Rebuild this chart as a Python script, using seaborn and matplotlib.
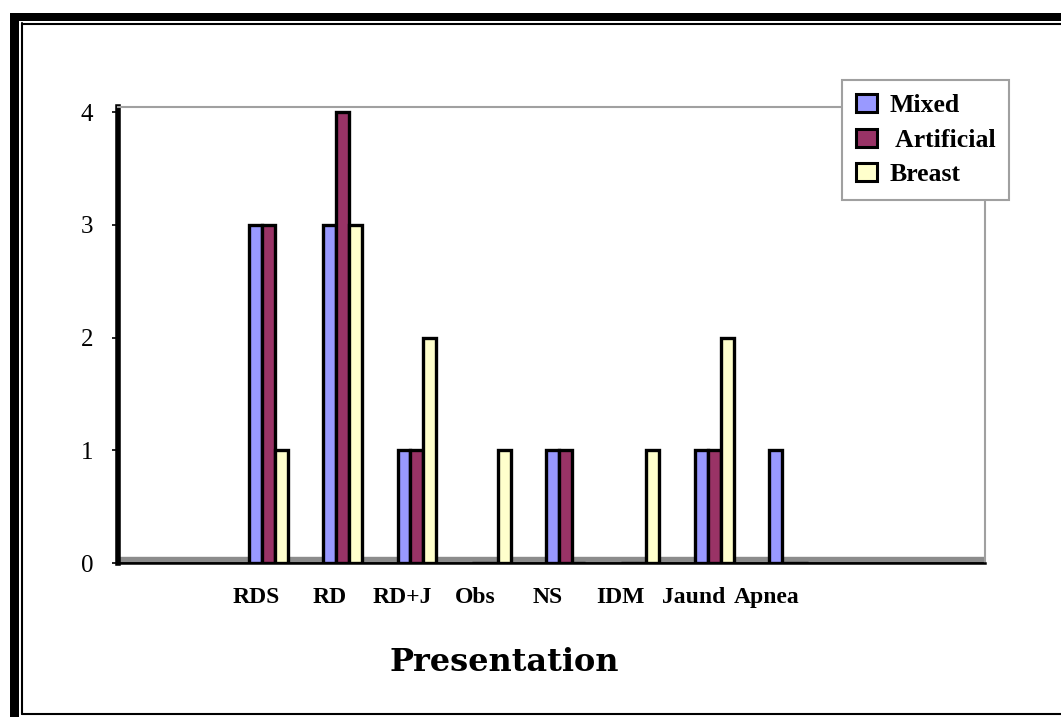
import matplotlib
matplotlib.use("Agg")
import matplotlib.pyplot as plt
from matplotlib.patches import Rectangle, Patch
from matplotlib.lines import Line2D
import numpy as np
import pandas as pd
import seaborn as sns

categories = ["RDS", "RD", "RD+J", "Obs", "NS", "IDM", "Jaund", "Apnea"]
mixed = [3, 3, 1, 0, 1, 0, 1, 1]
artificial = [3, 4, 1, 0, 1, 0, 1, 0]
breast = [1, 3, 2, 1, 0, 1, 2, 0]
series_names = ["Mixed", "Artificial", "Breast"]
legend_labels = ["Mixed", " Artificial", "Breast"]
y_ticks = [0, 1, 2, 3, 4]
colors = ["#9999FF", "#993366", "#FFFFCC"]

df = pd.DataFrame({
    "Presentation": categories * 3,
    "Count": mixed + artificial + breast,
    "Feeding": [s for s in series_names for _ in categories],
})

sns.set_theme(style="white")
plt.rcParams["font.family"] = ["Liberation Serif", "DejaVu Serif"]
for key in ["text.color", "axes.labelcolor", "xtick.color", "ytick.color"]:
    plt.rcParams[key] = "black"

W, H = 1061, 717
fig = plt.figure(figsize=(W / 100, H / 100), dpi=100)
fig.patch.set_facecolor("white")


def fx(px):
    return px / W


def fy(py):
    return 1 - py / H


# page frame: heavy rule left/top with a thin inner rule
fig.add_artist(Rectangle((fx(10), 0), fx(9), fy(13), transform=fig.transFigure,
                         facecolor="black", edgecolor="none"))
fig.add_artist(Rectangle((fx(10), fy(21)), 1 - fx(10), fy(13) - fy(21), transform=fig.transFigure,
                         facecolor="black", edgecolor="none"))
fig.add_artist(Line2D([fx(21.5), fx(21.5)], [fy(23), fy(714)], transform=fig.transFigure,
                      color="black", lw=1.5))
fig.add_artist(Line2D([fx(21.5), 1], [fy(23.5), fy(23.5)], transform=fig.transFigure,
                      color="black", lw=1.5))
fig.add_artist(Line2D([fx(21.5), 1], [fy(714), fy(714)], transform=fig.transFigure,
                      color="black", lw=1.5))

ax = fig.add_axes([fx(118), fy(563), fx(985) - fx(118), fy(107) - fy(563)])

sns.barplot(data=df, x="Presentation", y="Count", hue="Feeding", order=categories,
            hue_order=series_names, palette=colors, width=0.52, edgecolor="black",
            linewidth=2.4, saturation=1, ax=ax, legend=False, zorder=3)

# grey floor band
ax.axhspan(0, 0.05, color="#8c8c8c", zorder=1)
ax.axhline(0, color="black", lw=1.8, zorder=2)

ax.set_xlim(-2.02, 9.64)
ax.set_ylim(0, 4.045)
ax.set_yticks(y_ticks)
ax.set_yticklabels([str(v) for v in y_ticks], fontsize=18)
ax.tick_params(axis="y", length=4, width=1.2, color="black", pad=14, left=True)

# category labels sit a little left of their bar groups
ax.set_xticks(np.arange(len(categories)) * 0.98 - 0.16)
ax.set_xticklabels(categories, fontsize=17, fontweight="bold")
ax.tick_params(axis="x", length=0, pad=17)

for side in ["top", "right"]:
    ax.spines[side].set_visible(True)
    ax.spines[side].set_color("#a0a0a0")
    ax.spines[side].set_linewidth(1.5)
ax.spines["left"].set_color("black")
ax.spines["left"].set_linewidth(4)
ax.spines["bottom"].set_color("black")
ax.spines["bottom"].set_linewidth(1.8)

ax.set_ylabel("")
ax.set_xlabel("Presentation", fontsize=23, fontweight="bold", family="DejaVu Serif")
ax.xaxis.set_label_coords(0.445, -0.184)

handles = [Patch(facecolor=c, edgecolor="black", linewidth=2.2) for c in colors]
leg = fig.legend(handles, legend_labels, loc="upper left",
                 bbox_to_anchor=(fx(842), fy(80)), frameon=True, fancybox=False,
                 edgecolor="#a0a0a0", framealpha=1, prop={"weight": "bold", "size": 18.5},
                 handlelength=0.8, handleheight=0.7, handletextpad=0.5, labelspacing=0.45,
                 borderpad=0.55, borderaxespad=0)
leg.get_frame().set_linewidth(1.5)
leg.set_zorder(10)

fig.savefig("out.png", dpi=100, facecolor="white")
